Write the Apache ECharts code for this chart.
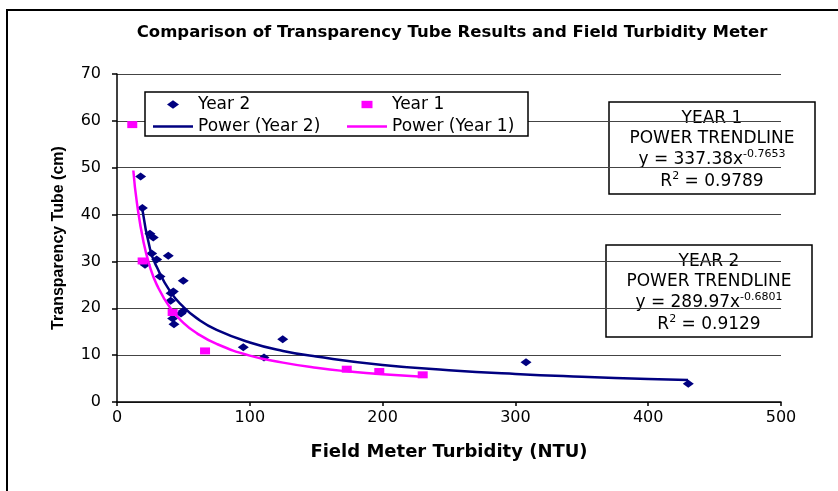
<!DOCTYPE html>
<html>
<head>
<meta charset="utf-8">
<title>Transparency Tube vs Field Turbidity</title>
<script src="https://cdn.jsdelivr.net/npm/echarts@6.0.0/dist/echarts.min.js"></script>
<style>
  html, body { margin: 0; padding: 0; background: #fff; }
  #main { width: 838px; height: 491px; }
</style>
</head>
<body>
<div id="main"></div>
<script>
// Year 2 measurements (turbidity NTU, tube cm)
var year2X = [17.8, 19.1, 21.1, 24.8, 26.1, 27.3, 29.9, 32.4, 38.6, 40.4, 40.7, 41.9, 42.4, 42.9, 48.2, 49.9, 49.9, 95.1, 110.7, 124.8, 308, 430.2];
var year2Y = [48.1, 41.4, 29.3, 35.9, 31.7, 35.1, 30.4, 26.8, 31.2, 21.6, 23.2, 17.8, 23.6, 16.6, 18.9, 25.9, 19.4, 11.7, 9.5, 13.4, 8.5, 3.9];

// Year 1 measurements
var year1X = [11.5, 19.3, 41.9, 66.3, 173, 197.5, 230.2];
var year1Y = [59.2, 30.1, 19.1, 10.9, 7.0, 6.5, 5.8];

// power trendlines, points
var trend2X = [19, 25, 30, 40, 50, 60, 75, 100, 125, 150, 200, 250, 300, 350, 400, 430];
var trend2Y = [41.3, 32.5, 28.8, 23.6, 20.3, 17.9, 15.4, 12.7, 10.9, 9.7, 7.9, 6.8, 6.0, 5.4, 4.9, 4.7];
var trend1X = [12.3, 15, 20, 25, 30, 40, 50, 60, 75, 100, 125, 150, 175, 200, 230];
var trend1Y = [49.4, 42.5, 34.1, 28.7, 25.0, 20.1, 16.9, 14.7, 12.4, 9.9, 8.4, 7.3, 6.5, 5.9, 5.4];

// axis ticks
var xTicks = [0, 100, 200, 300, 400, 500];
var yTicks = [0, 10, 20, 30, 40, 50, 60, 70];

var seriesNames = ['Year 2', 'Year 1', 'Power (Year 2)', 'Power (Year 1)'];
var boxLines1 = ['YEAR 1', 'POWER TRENDLINE', '337.38', '-0.7653', '0.9789'];
var boxLines2 = ['YEAR 2', 'POWER TRENDLINE', '289.97', '-0.6801', '0.9129'];

function pairs(xs, ys) {
  return xs.map(function (x, i) { return [x, ys[i]]; });
}

var font = 'DejaVu Sans, Arial, sans-serif';
var navy = '#000080';
var pink = '#FF00FF';

// legend icons drawn inside a 40x9 box so they don't get stretched
var iconDiamond = 'path://M0,0M40,9M14,4.5L20,0.2L26,4.5L20,8.8Z';
var iconSquare = 'path://M0,0M40,9M14.5,0.8H25.5V8.2H14.5Z';
var iconLine = 'path://M0,0M40,9M0,3.2H40V5.8H0Z';

// text box with the trendline equation
function eqBox(x, y, lines) {
  return {
    type: 'group',
    x: x,
    y: y,
    z: 10,
    children: [
      {
        type: 'rect',
        shape: {x: 0, y: 0, width: 206, height: 92},
        style: {fill: '#fff', stroke: '#000', lineWidth: 1.5}
      },
      {
        type: 'text',
        x: 103,
        y: 7,
        style: {
          text: '{a|' + lines[0] + '}\n{a|' + lines[1] + '}\n{b|y = ' + lines[2] + 'x}{s|' + lines[3] + '}\n{b|R}{s|2}{b| = ' + lines[4] + '}',
          align: 'center',
          fill: '#000',
          rich: {
            a: {fontSize: 17, fontFamily: font, lineHeight: 20},
            b: {fontSize: 17, fontFamily: font, lineHeight: 22},
            s: {fontSize: 11, fontFamily: font, verticalAlign: 'top', lineHeight: 22, padding: [0, 0, 8, 0]}
          }
        }
      }
    ]
  };
}

var myChart = echarts.init(document.getElementById('main'));

var legendText = {fontFamily: font, fontSize: 17, color: '#000'};

var option = {
  backgroundColor: '#fff',
  animation: false,
  title: {
    text: 'Comparison of Transparency Tube Results and Field Turbidity Meter',
    left: 447,
    top: 19,
    textAlign: 'center',
    textStyle: {fontFamily: font, fontWeight: 'bold', fontSize: 16.5, color: '#000'}
  },
  grid: {
    left: 117,
    top: 74,
    width: 664,
    height: 328,
    outerBoundsMode: 'none'
  },
  legend: [
    {
      data: [{name: seriesNames[0], icon: iconDiamond}, {name: seriesNames[2], icon: iconLine}],
      orient: 'vertical',
      left: 153,
      top: 96,
      itemWidth: 40,
      itemHeight: 9,
      itemGap: 5,
      padding: 0,
      z: 12,
      textStyle: legendText
    },
    {
      data: [{name: seriesNames[1], icon: iconSquare}, {name: seriesNames[3], icon: iconLine}],
      orient: 'vertical',
      left: 347,
      top: 96,
      itemWidth: 40,
      itemHeight: 9,
      itemGap: 5,
      padding: 0,
      z: 12,
      textStyle: legendText
    }
  ],
  xAxis: {
    type: 'value',
    min: xTicks[0],
    max: xTicks[xTicks.length - 1],
    interval: 100,
    name: 'Field Meter Turbidity (NTU)',
    nameLocation: 'middle',
    nameGap: 41,
    nameTextStyle: {fontFamily: font, fontWeight: 'bold', fontSize: 18, color: '#000'},
    axisLine: {lineStyle: {color: '#000', width: 1.5}},
    axisTick: {show: true, length: 4, lineStyle: {color: '#000', width: 1.5}},
    axisLabel: {fontFamily: font, fontSize: 16, color: '#000', margin: 8},
    splitLine: {show: false}
  },
  yAxis: {
    type: 'value',
    min: yTicks[0],
    max: yTicks[yTicks.length - 1],
    interval: 10,
    name: 'Transparency Tube (cm)',
    nameLocation: 'middle',
    nameGap: 50,
    nameTextStyle: {fontFamily: 'Liberation Sans, Arial, sans-serif', fontWeight: 'bold', fontSize: 16, color: '#000'},
    axisLine: {show: true, lineStyle: {color: '#000', width: 1.5}},
    axisTick: {show: true, length: 5, lineStyle: {color: '#000', width: 1.5}},
    axisLabel: {fontFamily: font, fontSize: 16, color: '#000', margin: 16},
    splitLine: {show: true, lineStyle: {color: '#444', width: 1.2}}
  },
  series: [
    {
      name: seriesNames[0],
      type: 'scatter',
      symbol: 'diamond',
      symbolSize: [11, 8],
      itemStyle: {color: navy, opacity: 1},
      data: pairs(year2X, year2Y),
      z: 3
    },
    {
      name: seriesNames[1],
      type: 'scatter',
      symbol: 'rect',
      symbolSize: [10, 7],
      itemStyle: {color: pink, opacity: 1},
      data: pairs(year1X, year1Y),
      z: 3
    },
    {
      name: seriesNames[2],
      type: 'line',
      symbol: 'none',
      smooth: true,
      lineStyle: {color: navy, width: 2.5},
      itemStyle: {color: navy},
      data: pairs(trend2X, trend2Y),
      z: 4
    },
    {
      name: seriesNames[3],
      type: 'line',
      symbol: 'none',
      smooth: true,
      lineStyle: {color: pink, width: 2.5},
      itemStyle: {color: pink},
      data: pairs(trend1X, trend1Y),
      z: 4
    }
  ],
  graphic: [
    // outer chart frame
    {
      type: 'rect',
      z: 20,
      shape: {x: 7, y: 10, width: 840, height: 490},
      style: {fill: 'none', stroke: '#000', lineWidth: 2}
    },
    // legend box
    {
      type: 'rect',
      z: 10,
      shape: {x: 145, y: 92, width: 383, height: 44},
      style: {fill: '#fff', stroke: '#000', lineWidth: 1.5}
    },
    eqBox(609, 102, boxLines1),
    eqBox(606, 245, boxLines2)
  ]
};

myChart.setOption(option);
</script>
</body>
</html>
